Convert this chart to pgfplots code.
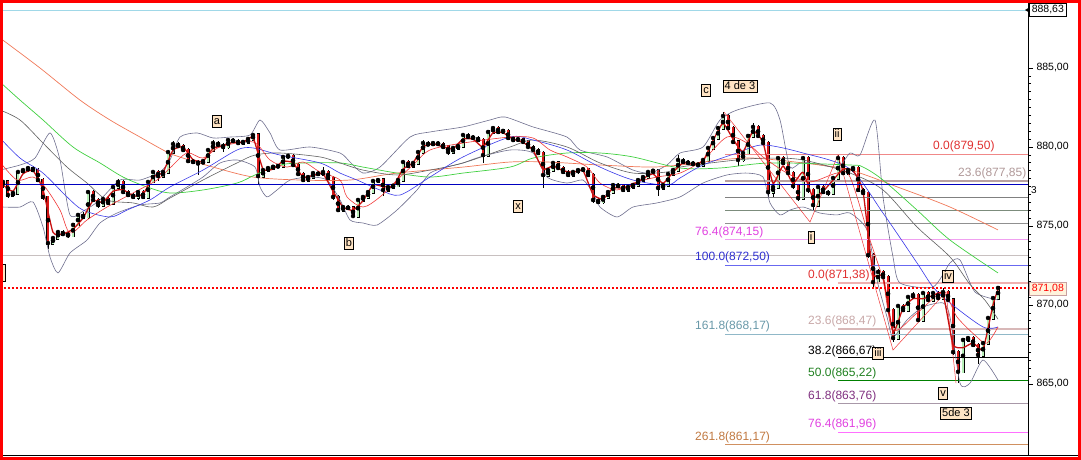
\documentclass[border=0pt]{standalone}
\usepackage{fontspec}
\setmainfont{Liberation Sans}
\usepackage{pgfplots}
\pgfplotsset{compat=1.18}
\usepackage{pgfplotstable}

\definecolor{bbcol}{HTML}{6E6E8E}
\definecolor{macblue}{HTML}{3838E8}
\definecolor{macgrey}{HTML}{606060}
\definecolor{macgreen}{HTML}{40D040}
\definecolor{macorange}{HTML}{F07858}
\definecolor{macred}{HTML}{F03838}
\definecolor{thickred}{HTML}{C81010}
\definecolor{upbody}{HTML}{B8F0B8}
\definecolor{dnbody}{HTML}{D81818}
\definecolor{boxfill}{HTML}{FFE4C4}
\definecolor{cyanline}{HTML}{A0D8E8}
\definecolor{darkblue}{HTML}{0000C0}
\definecolor{lgrey}{HTML}{C8C0C0}

\newcommand{\lbl}{\fontsize{12}{14}\selectfont}

\pgfplotstableread{
x o c u d
3 877.60 877.79 0.15 0.20
8 877.79 876.96 0.10 0.20
13 876.96 877.09 0.15 0.15
18 877.09 878.42 0.10 0.10
23 878.42 878.54 0.15 0.10
28 878.54 878.67 0.10 0.15
33 878.67 878.54 0.10 0.10
38 878.54 877.91 0.10 0.15
43 877.91 876.84 0.10 0.20
48 876.84 873.92 0.05 0.35
53 873.92 874.24 0.15 0.10
58 874.24 874.62 0.10 0.15
63 874.62 874.49 0.15 0.10
68 874.49 874.40 0.10 0.15
73 874.40 875.07 0.10 0.10
78 875.07 875.70 0.15 0.10
83 875.70 875.57 0.20 0.15
88 875.57 877.15 0.15 0.10
93 877.15 876.65 0.10 0.10
98 876.65 876.33 0.10 0.20
103 876.33 876.71 0.15 0.10
108 876.71 876.46 0.10 0.15
113 876.46 877.47 0.10 0.10
118 877.47 877.79 0.20 0.10
123 877.79 877.15 0.10 0.15
128 877.15 876.96 0.10 0.10
133 876.96 876.84 0.15 0.15
138 876.84 877.15 0.10 0.20
143 877.15 876.84 0.10 0.15
148 876.84 877.79 0.10 0.10
153 877.79 878.42 0.15 0.10
158 878.42 878.16 0.10 0.30
163 878.16 878.42 0.15 0.10
168 878.42 879.68 0.15 0.10
173 879.68 880.19 0.20 0.10
178 880.19 880.06 0.10 0.15
183 880.06 879.81 0.10 0.15
188 879.81 879.11 0.10 0.15
193 879.11 879.05 0.10 0.15
198 879.05 878.95 0.10 0.70
203 878.95 879.11 0.15 0.10
208 879.11 879.81 0.10 0.10
213 879.81 880.25 0.20 0.10
218 880.25 880.13 0.10 0.15
223 880.13 880.00 0.10 0.30
228 880.00 880.44 0.15 0.10
233 880.44 880.38 0.10 0.15
238 880.38 880.25 0.10 0.15
243 880.25 880.32 0.10 0.10
248 880.32 880.51 0.15 0.10
253 880.51 880.76 0.15 0.10
258 880.76 878.16 0.10 0.55
263 878.16 878.54 0.10 0.15
268 878.54 878.67 0.10 0.10
273 878.67 878.75 0.10 0.10
278 878.75 878.80 0.15 0.10
283 878.80 879.37 0.10 0.10
288 879.37 879.43 0.20 0.15
293 879.43 878.86 0.10 0.10
298 878.86 878.29 0.10 0.15
303 878.29 877.91 0.10 0.15
308 877.91 878.10 0.15 0.10
313 878.10 878.35 0.10 0.10
318 878.35 878.29 0.15 0.15
323 878.29 878.42 0.30 0.10
328 878.42 878.04 0.10 0.15
333 878.04 876.84 0.10 0.20
338 876.84 876.01 0.10 0.15
343 876.01 876.20 0.15 0.10
348 876.20 876.14 0.10 0.15
353 876.14 875.63 0.10 0.15
358 875.63 876.65 0.10 0.10
363 876.65 876.84 0.15 0.10
368 876.84 877.15 0.10 0.10
373 877.15 877.85 0.10 0.10
378 877.85 877.91 0.15 0.10
383 877.91 877.28 0.10 0.40
388 877.28 877.47 0.10 0.10
393 877.47 877.55 0.10 0.10
398 877.55 877.91 0.10 0.10
403 877.91 879.05 0.15 0.10
408 879.05 878.80 0.10 0.15
413 878.80 878.99 0.10 0.10
418 878.99 879.68 0.10 0.10
423 879.68 880.25 0.20 0.10
428 880.25 880.15 0.10 0.10
433 880.15 880.25 0.15 0.10
438 880.25 880.19 0.10 0.15
443 880.19 880.00 0.10 0.15
448 880.00 879.68 0.10 0.20
453 879.68 879.94 0.10 0.15
458 879.94 880.06 0.10 0.10
463 880.06 880.76 0.15 0.10
468 880.76 880.63 0.10 0.10
473 880.63 880.57 0.15 0.15
478 880.57 880.44 0.10 0.15
483 880.44 879.49 0.10 0.50
488 879.49 880.95 0.10 0.10
493 880.95 881.20 0.15 0.10
498 881.20 880.95 0.10 0.10
503 880.95 881.02 0.10 0.10
508 881.02 880.57 0.10 0.15
513 880.57 880.44 0.10 0.10
518 880.44 880.50 0.10 0.10
523 880.50 880.32 0.10 0.10
528 880.32 880.00 0.10 0.15
533 880.00 879.81 0.10 0.10
538 879.81 879.62 0.10 0.15
543 879.62 878.23 0.10 0.80
548 878.23 878.54 0.10 0.15
553 878.54 878.99 0.15 0.10
558 878.99 878.67 0.10 0.10
563 878.67 878.42 0.10 0.10
568 878.42 878.23 0.10 0.15
573 878.23 878.42 0.10 0.10
578 878.42 878.54 0.10 0.10
583 878.54 878.60 0.10 0.10
588 878.60 878.23 0.10 0.10
593 878.23 876.65 0.10 0.20
598 876.65 876.52 0.10 0.15
603 876.52 876.84 0.10 0.15
608 876.84 877.15 0.10 0.10
613 877.15 877.59 0.10 0.10
618 877.59 877.53 0.10 0.10
623 877.53 877.28 0.10 0.10
628 877.28 877.47 0.10 0.10
633 877.47 877.59 0.10 0.10
638 877.59 877.91 0.10 0.10
643 877.91 878.10 0.10 0.10
648 878.10 878.42 0.15 0.10
653 878.42 878.50 0.10 0.10
658 878.50 877.41 0.10 0.50
663 877.41 877.59 0.10 0.15
668 877.59 878.29 0.10 0.10
673 878.29 878.54 0.10 0.10
678 878.54 879.18 0.30 0.10
683 879.18 879.05 0.10 0.10
688 879.05 878.99 0.10 0.10
693 878.99 878.92 0.10 0.10
698 878.92 878.86 0.10 0.10
703 878.86 879.18 0.10 0.10
708 879.18 879.94 0.10 0.10
713 879.94 880.57 0.15 0.10
718 880.57 881.20 0.15 0.10
723 881.20 881.96 0.25 0.10
728 881.96 881.20 0.10 0.15
733 881.20 880.32 0.10 0.15
738 880.32 879.18 0.10 0.40
743 879.18 879.62 0.10 0.15
748 879.62 880.70 0.10 0.10
753 880.70 881.27 0.25 0.10
758 881.27 880.70 0.10 0.10
763 880.70 880.25 0.10 0.10
768 880.25 877.15 0.10 0.30
773 877.15 877.47 0.10 0.30
778 877.47 879.30 0.15 0.10
783 879.30 878.99 0.10 0.10
788 878.99 878.35 0.10 0.15
793 878.35 877.53 0.10 0.20
798 877.53 876.77 0.10 0.20
803 876.77 879.30 0.15 0.10
808 879.30 877.28 0.10 0.20
813 877.28 876.33 0.10 0.40
818 876.33 877.47 0.10 0.10
823 877.47 877.15 0.10 0.15
828 877.15 877.09 0.10 0.20
833 877.09 878.04 0.10 0.10
838 878.04 879.30 0.20 0.10
843 879.30 878.35 0.10 0.15
848 878.35 878.54 0.10 0.10
853 878.54 878.67 0.15 0.10
858 878.67 877.28 0.10 0.15
863 877.28 877.09 0.10 0.30
868 877.09 873.16 0.10 0.20
873 873.16 871.45 0.10 0.30
878 871.45 872.09 0.20 0.10
883 872.09 871.77 0.10 0.20
888 871.77 869.68 0.10 0.25
893 869.68 867.91 0.10 0.25
898 867.91 869.94 0.10 0.10
903 869.94 869.68 0.15 0.15
908 869.68 870.51 0.10 0.10
913 870.51 870.63 0.20 0.10
918 870.63 869.05 0.10 0.15
923 869.05 870.76 0.10 0.10
928 870.76 870.32 0.10 0.10
933 870.32 870.76 0.15 0.10
938 870.76 870.44 0.10 0.15
943 870.44 870.82 0.25 0.10
948 870.82 870.32 0.15 0.10
953 870.32 867.02 0.10 0.20
958 867.02 865.77 0.10 0.70
963 865.77 867.79 0.10 0.10
968 867.79 867.91 0.15 0.10
973 867.91 867.47 0.10 0.15
978 867.47 866.84 0.10 0.60
983 866.84 867.59 0.10 0.10
988 867.59 869.18 0.10 0.10
993 869.18 870.44 0.10 0.10
998 870.44 871.08 0.15 0.10
}\candles

\tikzset{wbox/.style={draw=black, fill=boxfill, line width=0.5pt, inner xsep=1.6pt, inner ysep=1.2pt,
  text height=8pt, text depth=1.5pt, font=\fontsize{11}{12}\selectfont}}

\begin{document}
\begin{tikzpicture}
\path[use as bounding box] (0,0) rectangle (1081pt,460pt);
\begin{axis}[
  at={(0pt,5pt)}, anchor=south west,
  scale only axis, width=1028pt, height=454pt,
  xmin=0, xmax=1028, ymin=860.506, ymax=889.241,
  axis x line*=bottom, axis y line*=right,
  axis line style={-, black, line width=0.8pt},
  xtick=\empty,
  ytick={865,870,875,880,885},
  minor y tick num=9,
  tick align=outside,
  major tick length=5pt, minor tick length=3pt,
  tick style={black, line width=0.6pt},
  /pgf/number format/assume math mode=true,
  yticklabel style={font=\fontsize{10.5}{12}\selectfont, /pgf/number format/fixed, /pgf/number format/fixed zerofill, /pgf/number format/precision=2, /pgf/number format/use comma},
]
% candle wicks
\addplot[only marks, mark=none, error bars/.cd, y dir=both, y explicit, error mark=none,
  error bar style={black, line width=0.5pt}]
  table[x=x, y=c, y error plus expr={max(\thisrow{o},\thisrow{c})-\thisrow{c}+\thisrow{u}},
        y error minus expr={\thisrow{c}-min(\thisrow{o},\thisrow{c})+\thisrow{d}}] {\candles};
% body outline
\addplot[only marks, mark=none, error bars/.cd, y dir=both, y explicit, error mark=none,
  error bar style={black, line width=3.0pt, line cap=rect}]
  table[x=x, y expr={(\thisrow{o}+\thisrow{c})/2}, y error expr={max(abs(\thisrow{c}-\thisrow{o})/2,0.01)}] {\candles};
% up bodies
\addplot[only marks, mark=none, restrict expr to domain={\thisrow{c}-\thisrow{o}}{0:100},
  error bars/.cd, y dir=both, y explicit, error mark=none,
  error bar style={upbody, line width=1.9pt, line cap=rect}]
  table[x=x, y expr={(\thisrow{o}+\thisrow{c})/2}, y error expr={max(abs(\thisrow{c}-\thisrow{o})/2,0.01)}] {\candles};
% down bodies
\addplot[only marks, mark=none, restrict expr to domain={\thisrow{c}-\thisrow{o}}{-100:-0.001},
  error bars/.cd, y dir=both, y explicit, error mark=none,
  error bar style={dnbody, line width=1.9pt, line cap=rect}]
  table[x=x, y expr={(\thisrow{o}+\thisrow{c})/2}, y error expr={max(abs(\thisrow{c}-\thisrow{o})/2,0.01)}] {\candles};

% horizontal levels
\addplot[cyanline, line width=0.8pt] coordinates {(0,888.63)(1028,888.63)};
\addplot[lgrey, line width=1.6pt] coordinates {(0,873.13)(1028,873.13)};
\addplot[color={rgb,255:red,240;green,136;blue,136}, line width=0.9pt] coordinates {(725,879.50)(1028,879.50)};
\addplot[color={rgb,255:red,184;green,160;blue,160}, line width=1.2pt] coordinates {(725,877.85)(1028,877.85)};
\addplot[color={rgb,255:red,128;green,128;blue,128}, line width=0.8pt] coordinates {(725,876.83)(1028,876.83)};
\addplot[color={rgb,255:red,124;green,140;blue,124}, line width=0.8pt] coordinates {(725,876.00)(1028,876.00)};
\addplot[color={rgb,255:red,144;green,144;blue,144}, line width=0.8pt] coordinates {(725,875.17)(1028,875.17)};
\addplot[color={rgb,255:red,240;green,160;blue,240}, line width=1.6pt] coordinates {(725,874.15)(1028,874.15)};
\addplot[color={rgb,255:red,104;green,104;blue,240}, line width=0.8pt] coordinates {(725,872.50)(1028,872.50)};
\addplot[color={rgb,255:red,240;green,176;blue,176}, line width=1.6pt] coordinates {(838,871.38)(1028,871.38)};
\addplot[color={rgb,255:red,216;green,184;blue,184}, line width=1.6pt] coordinates {(838,868.47)(1028,868.47)};
\addplot[color={rgb,255:red,144;green,184;blue,200}, line width=0.8pt] coordinates {(725,868.17)(1028,868.17)};
\addplot[black, line width=0.8pt] coordinates {(838,866.67)(1028,866.67)};
\addplot[color={rgb,255:red,0;green,128;blue,0}, line width=0.8pt] coordinates {(838,865.22)(1028,865.22)};
\addplot[color={rgb,255:red,168;green,152;blue,168}, line width=0.8pt] coordinates {(838,863.76)(1028,863.76)};
\addplot[color={rgb,255:red,255;green,112;blue,255}, line width=0.8pt] coordinates {(838,861.96)(1028,861.96)};
\addplot[color={rgb,255:red,208;green,144;blue,96}, line width=0.8pt] coordinates {(725,861.17)(1028,861.17)};

% Bollinger bands
\addplot[bbcol, line width=0.6pt, smooth, tension=0.4] coordinates {(0,878.54)(20,878.86)(35,879.30)(50,880.89)(60,879.18)(70,875.70)(85,876.01)(100,876.65)(120,877.91)(140,877.91)(160,878.42)(170,879.18)(180,880.63)(197,880.89)(213,880.57)(230,880.63)(250,880.76)(260,881.71)(270,880.89)(280,879.81)(310,880.00)(340,879.62)(350,879.05)(363,878.35)(380,878.73)(410,880.63)(430,880.95)(463,881.27)(490,881.71)(505,881.90)(533,881.27)(567,880.63)(580,879.81)(607,879.37)(633,878.54)(650,878.35)(667,878.86)(680,879.62)(703,880.00)(720,881.71)(737,882.34)(770,882.79)(780,881.71)(790,878.73)(803,879.05)(837,878.73)(850,879.62)(860,879.49)(875,881.70)(883,876.84)(893,873.04)(900,871.39)(933,871.14)(950,872.66)(960,872.85)(975,870.82)(998,870.32)};
\addplot[bbcol, line width=0.6pt, smooth, tension=0.4] coordinates {(3,876.20)(20,876.20)(33,876.52)(43,874.94)(50,873.04)(58,872.03)(70,873.29)(87,874.11)(100,875.19)(117,875.82)(140,876.33)(160,876.46)(170,876.84)(187,877.47)(203,878.10)(220,878.99)(237,879.18)(255,878.73)(260,877.47)(267,876.84)(277,877.28)(290,877.91)(310,878.10)(327,877.91)(340,876.65)(350,875.38)(363,875.19)(377,875.06)(397,876.01)(417,877.28)(430,878.35)(447,878.73)(463,878.99)(480,879.37)(510,879.81)(533,879.62)(547,878.10)(567,877.72)(583,877.91)(593,877.09)(600,876.20)(617,875.57)(633,876.20)(657,876.46)(680,876.84)(703,877.72)(727,878.23)(747,878.35)(763,878.10)(770,876.46)(780,875.70)(790,876.01)(803,876.20)(820,875.82)(837,875.70)(850,875.82)(867,874.75)(877,871.58)(887,869.24)(893,867.97)(907,869.05)(923,869.87)(943,870.13)(950,869.24)(960,865.06)(970,865.06)(983,866.52)(998,865.25)};

% moving averages
\addplot[macorange, line width=0.7pt, smooth] coordinates {(0,886.90)(40,885.00)(80,882.97)(110,881.71)(140,880.63)(167,879.68)(183,879.30)(213,878.73)(253,878.10)(300,877.91)(350,877.91)(397,878.35)(463,878.73)(510,879.05)(547,879.05)(600,878.86)(650,878.73)(680,878.86)(720,879.18)(753,879.30)(803,878.99)(850,878.54)(900,877.41)(950,876.20)(998,874.75)};
\addplot[macgreen, line width=0.7pt, smooth] coordinates {(0,884.11)(20,882.97)(43,881.71)(73,880.00)(100,878.99)(123,878.10)(147,877.47)(170,877.09)(203,877.28)(237,877.72)(255,878.23)(280,878.86)(303,878.99)(340,878.99)(363,878.73)(397,878.35)(430,878.10)(463,878.35)(510,878.73)(533,879.30)(567,879.62)(600,879.62)(633,879.37)(680,878.67)(720,878.67)(770,878.99)(850,878.86)(863,878.73)(883,877.91)(917,876.01)(950,874.11)(998,872.03)};
\addplot[macgrey, line width=0.6pt, smooth] coordinates {(0,882.34)(20,881.71)(43,880.25)(67,878.73)(87,877.72)(107,876.65)(133,876.46)(153,876.20)(170,876.77)(203,877.91)(237,878.99)(255,879.49)(280,879.62)(320,879.37)(340,878.99)(363,878.54)(397,878.23)(430,878.54)(463,878.99)(510,880.00)(533,880.44)(567,880.00)(600,878.99)(633,878.35)(667,878.42)(680,878.73)(737,879.18)(770,879.30)(803,879.18)(850,878.35)(883,877.28)(917,874.94)(950,873.04)(970,871.30)(985,870.30)(998,869.10)};
\addplot[macblue, line width=0.6pt, smooth] coordinates {(0,880.57)(20,879.30)(43,878.35)(67,876.84)(83,876.01)(110,875.57)(127,876.01)(150,876.65)(170,877.47)(203,878.54)(237,879.81)(253,879.94)(280,879.49)(320,878.99)(340,878.35)(357,877.91)(380,877.28)(400,876.96)(430,878.10)(463,879.37)(510,880.63)(533,880.44)(567,879.81)(600,878.73)(633,877.91)(667,877.59)(680,878.04)(703,878.86)(737,879.62)(763,880.13)(803,879.62)(850,878.60)(883,875.82)(917,872.66)(933,871.14)(950,870.13)(983,868.61)(998,868.61)};
\addplot[macred, line width=0.6pt, smooth] coordinates {(0,879.05)(17,877.91)(33,878.10)(45,877.47)(60,876.01)(70,874.56)(87,875.38)(107,876.20)(133,877.09)(157,877.91)(170,878.67)(187,879.62)(203,879.30)(220,880.00)(253,880.32)(270,879.18)(287,878.73)(303,879.05)(320,878.42)(340,877.91)(347,876.84)(363,876.20)(380,876.84)(397,877.91)(413,878.86)(430,879.81)(463,880.25)(510,880.63)(533,880.57)(550,879.81)(567,879.37)(587,878.73)(600,877.72)(617,877.28)(633,877.72)(657,878.10)(680,878.35)(703,879.18)(727,880.63)(747,880.25)(763,879.37)(787,878.35)(810,877.79)(837,878.35)(850,878.10)(870,874.11)(883,871.58)(893,868.42)(917,869.49)(943,870.76)(957,869.24)(977,867.97)(987,867.59)(998,868.61)};
% wave zigzag
\addplot[macred, line width=0.5pt] coordinates {(724,882.21)(810,875.25)(838,879.49)(893,867.15)(946,870.82)(956,865.06)};
% short moving average (thick)
\addplot[thickred, line width=1.3pt, smooth, tension=0.3] coordinates {(3,877.6)(13,877.2)(23,878.3)(33,878.5)(43,877.3)(53,874.6)(63,874.5)(73,874.8)(83,875.5)(93,876.6)(103,876.5)(113,877.2)(123,877.3)(133,876.9)(143,877.0)(153,878.1)(163,878.4)(173,879.8)(183,880.0)(193,879.2)(203,879.1)(213,879.9)(223,880.1)(233,880.3)(243,880.3)(253,880.6)(263,878.6)(273,878.6)(283,879.1)(293,879.0)(303,878.1)(313,878.2)(323,878.3)(333,877.2)(343,876.2)(353,876.0)(363,876.6)(373,877.6)(383,877.5)(393,877.5)(403,878.6)(413,879.0)(423,880.0)(433,880.2)(443,880.0)(453,879.9)(463,880.5)(473,880.5)(483,880.0)(493,880.9)(503,880.9)(513,880.5)(523,880.3)(533,879.8)(543,878.6)(553,878.8)(563,878.5)(573,878.4)(583,878.5)(593,877.0)(603,876.7)(613,877.4)(623,877.4)(633,877.6)(643,878.0)(653,878.3)(663,877.7)(673,878.4)(683,879.0)(693,878.9)(703,879.1)(713,880.4)(723,881.5)(733,880.5)(743,879.7)(753,881.0)(763,880.3)(773,877.7)(783,878.8)(793,877.7)(803,878.4)(813,876.8)(823,877.2)(833,877.9)(843,878.6)(853,878.5)(863,877.2)(873,872.0)(883,871.8)(893,868.3)(903,869.8)(913,870.4)(923,870.4)(933,870.6)(943,870.7)(953,867.5)(963,867.3)(973,867.6)(983,867.2)(993,870.0)(998,871.0)};

\addplot[darkblue, line width=1pt] coordinates {(0,877.63)(1028,877.63)};
\addplot[red, line width=1.6pt, dash pattern=on 2pt off 2pt] coordinates {(0,871.08)(1028,871.08)};

% fibonacci labels
\node[anchor=west, inner sep=0pt, font=\lbl, text={rgb,255:red,224;green,48;blue,48}] at (axis cs:933,880.06) {0.0(879,50)};
\node[anchor=west, inner sep=0pt, font=\lbl, text={rgb,255:red,176;green,152;blue,152}] at (axis cs:958,878.35) {23.6(877,85)};
\node[anchor=west, inner sep=0pt, font=\lbl, text={rgb,255:red,224;green,64;blue,224}] at (axis cs:695,874.62) {76.4(874,15)};
\node[anchor=west, inner sep=0pt, font=\lbl, text={rgb,255:red,48;green,48;blue,208}] at (axis cs:695,873.04) {100.0(872,50)};
\node[anchor=west, inner sep=0pt, font=\lbl, text={rgb,255:red,224;green,48;blue,48}] at (axis cs:808,871.90) {0.0(871,38)};
\node[anchor=west, inner sep=0pt, font=\lbl, text={rgb,255:red,200;green,168;blue,168}] at (axis cs:808,868.99) {23.6(868,47)};
\node[anchor=west, inner sep=0pt, font=\lbl, text={rgb,255:red,104;green,152;blue,168}] at (axis cs:695,868.67) {161.8(868,17)};
\node[anchor=west, inner sep=0pt, font=\lbl, text=black] at (axis cs:808,867.09) {38.2(866,67)};
\node[anchor=west, inner sep=0pt, font=\lbl, text={rgb,255:red,32;green,128;blue,32}] at (axis cs:808,865.70) {50.0(865,22)};
\node[anchor=west, inner sep=0pt, font=\lbl, text={rgb,255:red,128;green,48;blue,128}] at (axis cs:808,864.24) {61.8(863,76)};
\node[anchor=west, inner sep=0pt, font=\lbl, text={rgb,255:red,224;green,64;blue,224}] at (axis cs:808,862.47) {76.4(861,96)};
\node[anchor=west, inner sep=0pt, font=\lbl, text={rgb,255:red,192;green,120;blue,64}] at (axis cs:695,861.65) {261.8(861,17)};

% wave labels
\node[wbox] at (axis cs:217,881.64) {a};
\node[wbox] at (axis cs:349,873.92) {b};
\node[wbox] at (axis cs:518,876.27) {x};
\node[wbox] at (axis cs:706,883.61) {c};
\node[wbox] at (axis cs:740,883.86) {4 de 3};
\node[wbox] at (axis cs:837,880.82) {ii};
\node[wbox] at (axis cs:811,874.30) {i};
\node[wbox] at (axis cs:878,866.96) {iii};
\node[wbox] at (axis cs:948,871.84) {iv};
\node[wbox] at (axis cs:943,864.43) {v};
\node[wbox] at (axis cs:956,863.16) {5de 3};
\end{axis}

% right side annotations
\fill[black] (1025pt,450pt) -- (1030pt,453pt) -- (1030pt,447pt) -- cycle;
\node[draw=black, fill=white, line width=0.6pt, inner xsep=2.5pt, inner ysep=2pt, anchor=west,
  font=\fontsize{10.5}{12}\selectfont] at (1029pt,450pt) {888,63};
\node[draw={rgb,255:red,200;green,160;blue,160}, fill={rgb,255:red,255;green,243;blue,220}, line width=0.6pt,
  inner xsep=2.5pt, inner ysep=2pt, anchor=west, text=red,
  font=\fontsize{10.5}{12}\selectfont] at (1029pt,171.5pt) {871,08};
\node[anchor=west, inner sep=0pt, font=\fontsize{10}{11}\selectfont] at (1031pt,270pt) {3};
% partial (cut) label box at the left edge
\draw[black, line width=0.5pt, fill=boxfill] (-4pt,179pt) rectangle (5pt,196pt);
% bottom line and red frame
\draw[black, line width=0.8pt] (0pt,5pt) -- (1081pt,5pt);
\draw[red, line width=3pt] (1.5pt,1.5pt) rectangle (1079.5pt,458.5pt);
\end{tikzpicture}
\end{document}
